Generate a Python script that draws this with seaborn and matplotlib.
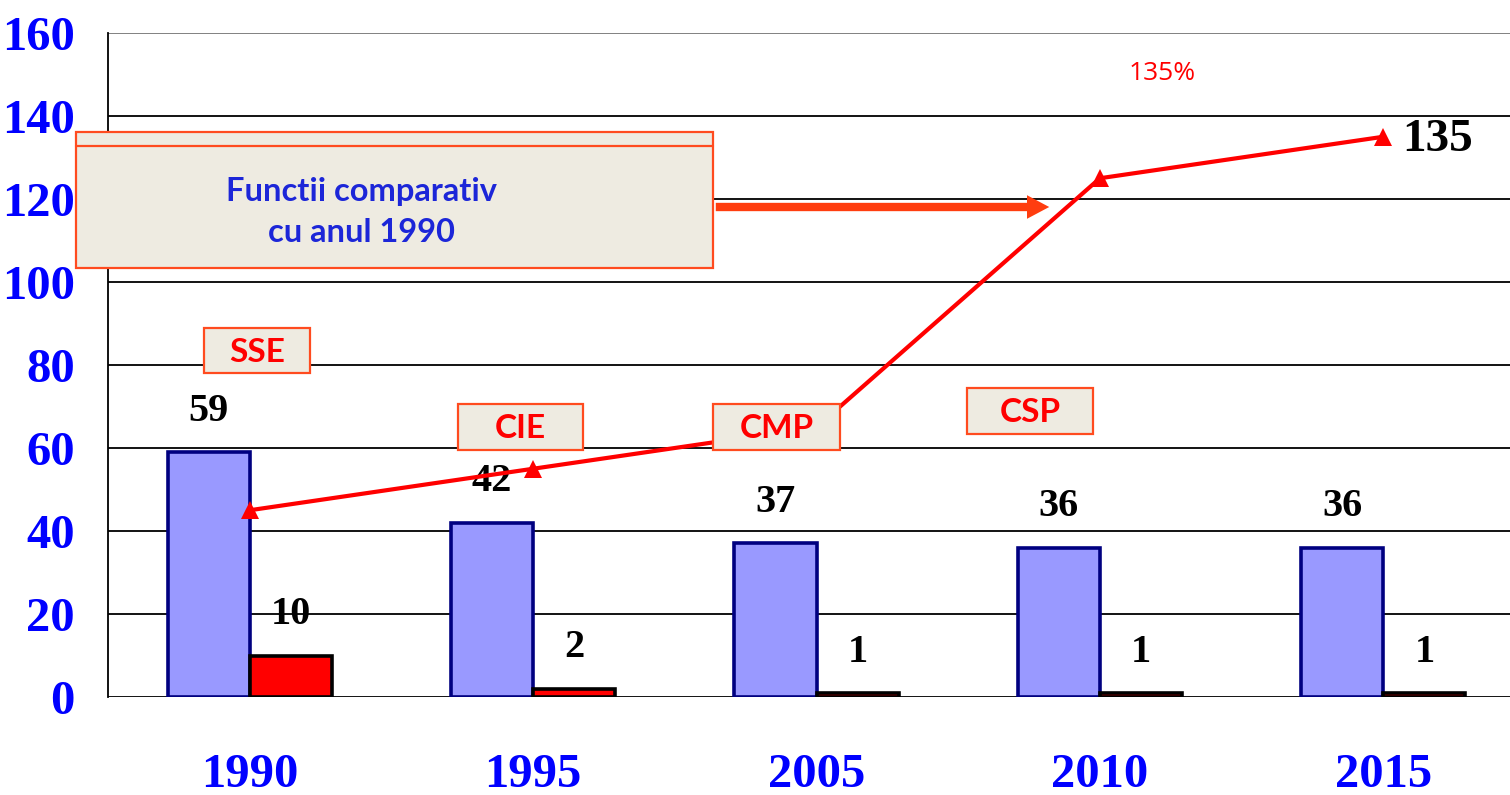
import numpy as np
import pandas as pd
import matplotlib
matplotlib.use('Agg')
import matplotlib.pyplot as plt
import seaborn as sns
from matplotlib.patches import Rectangle, FancyArrowPatch
from matplotlib.lines import Line2D

years = ['1990', '1995', '2005', '2010', '2015']
functii = [59, 42, 37, 36, 36]
secundare = [10, 2, 1, 1, 1]
comparativ = [45, 55, 65, 125, 135]

W, H = 1510, 795
sns.set_style('white')
plt.rcParams['font.family'] = ['Liberation Serif', 'DejaVu Sans']

df = pd.DataFrame({
    'an': years * 2,
    'valoare': functii + secundare,
    'serie': ['a'] * len(years) + ['b'] * len(years),
})

fig = plt.figure(figsize=(W / 100, H / 100), dpi=100)
ax = fig.add_axes([108 / W, 1 - 697 / H, (W - 108) / W, (697 - 33) / H])

sns.barplot(data=df, x='an', y='valoare', hue='serie', ax=ax, width=0.58,
            palette={'a': '#9999FF', 'b': '#FF0000'}, legend=False,
            saturation=1, zorder=3)
for c, ec in zip(ax.containers, ['#000080', '#000000']):
    for p in c:
        p.set_edgecolor(ec)
        p.set_linewidth(2.6)
    ax.bar_label(c, padding=16, fontsize=29, fontweight='bold', color='black')

sns.lineplot(x=np.arange(len(years)), y=comparativ, ax=ax, color='#FF0000',
             lw=3, marker='^', markersize=13, markeredgewidth=0, zorder=5)
ax.annotate(str(comparativ[-1]), (len(years) - 1, comparativ[-1]),
            xytext=(14, -2), textcoords='offset points', ha='left', va='center',
            fontsize=34, fontweight='bold', color='black')

ax.set_yticks(np.arange(0, 161, 20))
ax.set_xticks(np.arange(len(years)))
ax.set_xticks(np.arange(-0.5, len(years) - 1), minor=True)
ax.set_ylim(0, 160)
ax.set_xlim(-0.5, -0.5 + (W - 108) / 283.4)
ax.set_xlabel('')
ax.set_ylabel('')
ax.grid(axis='y', color='black', lw=1.3, zorder=0)
ax.get_ygridlines()[-1].set_color('#777777')
ax.set_axisbelow(True)
for s in ['top', 'right', 'bottom']:
    ax.spines[s].set_visible(False)
ax.spines['left'].set_color('black')
ax.spines['left'].set_linewidth(1.3)
ax.spines['left'].set_bounds(0, 160)
ax.tick_params(axis='y', length=8, width=1.3, color='black', pad=16,
               labelsize=35, labelcolor='#0000FF')
for t in ax.get_yticklabels():
    t.set_fontweight('bold')
ax.tick_params(axis='x', which='major', length=0, pad=40, labelsize=35,
               labelcolor='#0000FF')
ax.tick_params(axis='x', which='minor', length=12, width=1.3, color='#555555')
for t in ax.get_xticklabels():
    t.set_fontweight('bold')


def px(x, y):
    return x / W, 1 - y / H


def box(x0, y0, x1, y1, **kw):
    r = Rectangle(px(x0, y1), (x1 - x0) / W, (y1 - y0) / H,
                  transform=fig.transFigure, facecolor='#EEEBE1',
                  edgecolor='#FF4B1F', lw=1.6, **kw)
    fig.add_artist(r)


# caseta explicativa
box(76, 132, 713, 268)
fig.add_artist(Line2D([76 / W, 713 / W], [1 - 146 / H] * 2,
                      transform=fig.transFigure, color='#FF4B1F', lw=1.6))
fig.text(*px(362, 212), 'Functii comparativ\ncu anul 1990', ha='center',
         va='center', fontsize=23.5, fontweight='bold', color='#1C26D8',
         family=['Lato', 'DejaVu Sans'], linespacing=1.5)
fig.add_artist(FancyArrowPatch(px(713, 207), px(1052, 207),
                               transform=fig.transFigure,
                               arrowstyle='simple,head_length=16,head_width=17,tail_width=6',
                               mutation_scale=1, color='#FF3D0F', lw=0))

for name, (x0, y0, x1, y1) in {'SSE': (204, 328, 310, 373),
                               'CIE': (458, 404, 583, 450),
                               'CMP': (713, 404, 840, 450),
                               'CSP': (967, 388, 1093, 434)}.items():
    box(x0, y0, x1, y1)
    fig.text(*px((x0 + x1) / 2, (y0 + y1) / 2 + 2), name, ha='center',
             va='center', fontsize=24, fontweight='bold', color='#FF0000',
             family=['Lato', 'DejaVu Sans'])

fig.text(*px(1162, 73), '135%', ha='center', va='center', fontsize=19,
         color='#FF0000', family=['Open Sans', 'DejaVu Sans'])

fig.savefig('out.png', dpi=100)
